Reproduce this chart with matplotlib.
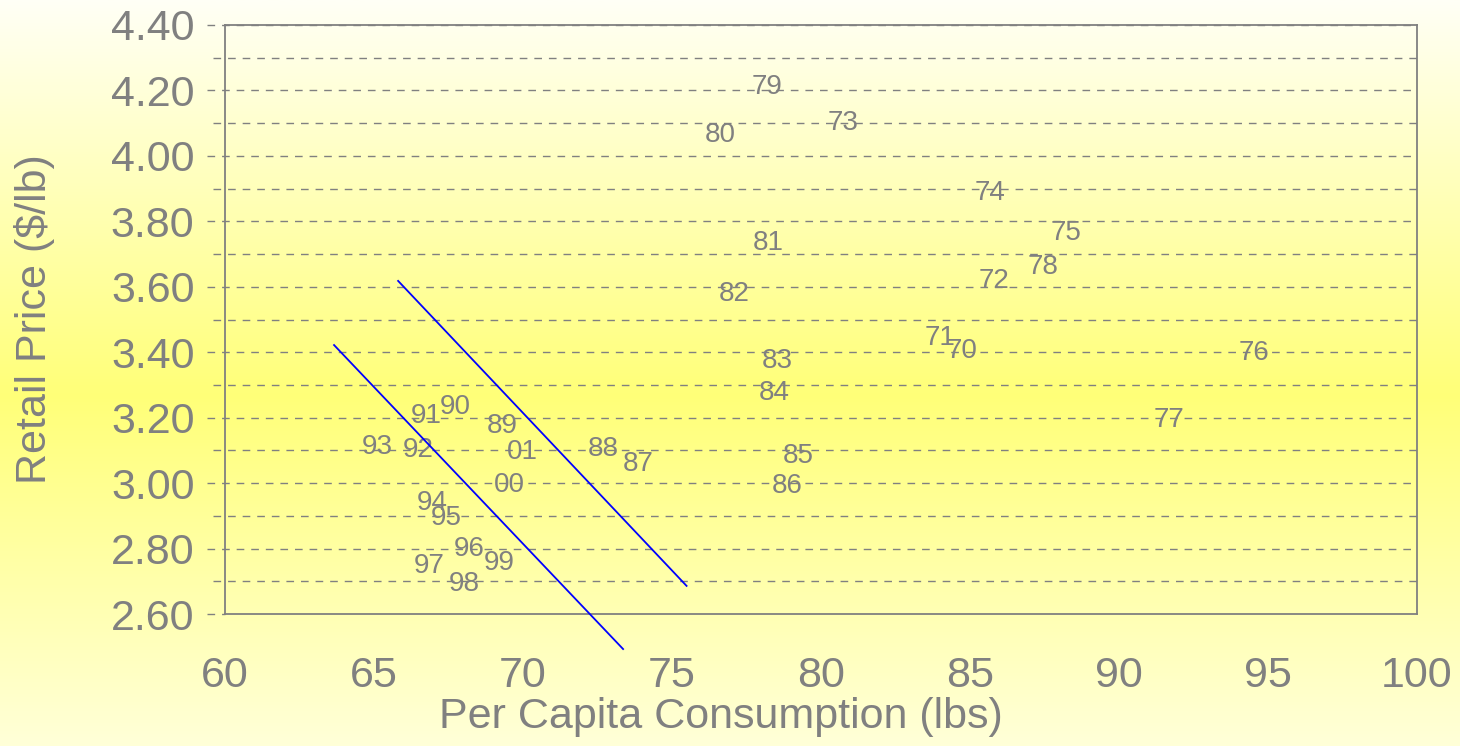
#!/usr/bin/env python3
"""Retail price vs per capita consumption, labelled by year."""

import matplotlib

matplotlib.use("Agg")
import matplotlib.pyplot as plt
import matplotlib.transforms as mtransforms
import numpy as np
from matplotlib.colors import LinearSegmentedColormap

# year labels and their positions (consumption lbs, price $/lb)
years = ["70", "71", "72", "73", "74", "75", "76", "77", "78", "79",
         "80", "81", "82", "83", "84", "85", "86", "87", "88", "89",
         "90", "91", "92", "93", "94", "95", "96", "97", "98", "99",
         "00", "01"]
consumption = [84.73, 83.99, 85.81, 80.74, 85.67, 88.22, 94.53, 91.68, 87.45, 78.19,
               76.61, 78.22, 77.08, 78.52, 78.42, 79.23, 78.86, 73.86, 72.68, 69.30,
               67.72, 66.74, 66.48, 65.10, 66.95, 67.42, 68.19, 66.85, 68.02, 69.19,
               69.56, 69.97]
price = [3.404, 3.443, 3.618, 4.100, 3.887, 3.764, 3.398, 3.193, 3.660, 4.210,
         4.064, 3.734, 3.578, 3.373, 3.275, 3.083, 2.991, 3.058, 3.104, 3.174,
         3.233, 3.205, 3.101, 3.110, 2.939, 2.893, 2.799, 2.747, 2.692, 2.756,
         2.994, 3.095]

# two hand-drawn demand lines
line_lower_x = [63.66, 73.36]
line_lower_y = [3.422, 2.493]
line_upper_x = [65.81, 75.49]
line_upper_y = [3.618, 2.686]

x_ticks = [60, 65, 70, 75, 80, 85, 90, 95, 100]
y_major = [2.60, 2.80, 3.00, 3.20, 3.40, 3.60, 3.80, 4.00, 4.20, 4.40]
y_minor = [2.70, 2.90, 3.10, 3.30, 3.50, 3.70, 3.90, 4.10, 4.30]

GREY = "#808080"

plt.rcParams["font.family"] = ["Liberation Sans", "DejaVu Sans"]

fig = plt.figure(figsize=(14.6, 7.46), dpi=100)

# background gradient over the whole figure
bg = fig.add_axes([0, 0, 1, 1], zorder=-10)
cmap = LinearSegmentedColormap.from_list(
    "bg", [(0.0, "#fffff6"), (0.53, "#ffff78"), (1.0, "#ffffd8")]
)
grad = np.linspace(0, 1, 512).reshape(-1, 1)
bg.imshow(grad, cmap=cmap, aspect="auto", extent=[0, 1, 0, 1], origin="upper")
bg.set_axis_off()

ax = fig.add_axes([0.1541, 0.1769, 0.8164, 0.7896])
ax.set_facecolor("none")
ax.set_xlim(60, 100)
ax.set_ylim(2.60, 4.40)

for side in ("left", "right", "top", "bottom"):
    ax.spines[side].set_color(GREY)
    ax.spines[side].set_linewidth(1.3)

# dashed grid; major lines poke out past the left spine like ticks
trans = mtransforms.blended_transform_factory(ax.transAxes, ax.transData)
for y in y_major[1:]:
    ax.plot([-0.015, 1], [y, y], transform=trans, color=GREY, lw=1.0,
            dashes=(5.5, 5), clip_on=False, zorder=1)
for y in y_minor:
    ax.plot([-0.010, 1], [y, y], transform=trans, color=GREY, lw=1.0,
            dashes=(5.5, 5), clip_on=False, zorder=1)
ax.plot([-0.015, 0], [2.60, 2.60], transform=trans, color=GREY, lw=1.0,
        dashes=(5.5, 5), clip_on=False, zorder=1)

ax.set_xticks(x_ticks)
ax.set_yticks(y_major)
ax.set_yticklabels([f"{v:.2f}" for v in y_major])
ax.tick_params(axis="both", length=0, labelsize=31, labelcolor=GREY)
ax.tick_params(axis="y", pad=22)
ax.tick_params(axis="x", pad=30)

for label, xv, yv in zip(years, consumption, price):
    ax.text(xv, yv, label, ha="center", va="center", fontsize=20,
            color=GREY, zorder=3)

ax.plot(line_lower_x, line_lower_y, color="#0000ff", lw=1.3, clip_on=False, zorder=4)
ax.plot(line_upper_x, line_upper_y, color="#0000ff", lw=1.3, clip_on=False, zorder=4)

ax.set_xlabel("Per Capita Consumption (lbs)", fontsize=31, color=GREY)
ax.xaxis.set_label_coords(0.416, -0.141)
ax.set_ylabel("Retail Price ($/lb)", fontsize=31, color=GREY)
ax.yaxis.set_label_coords(-0.1426, 0.5)

fig.savefig("out.png", dpi=100)
